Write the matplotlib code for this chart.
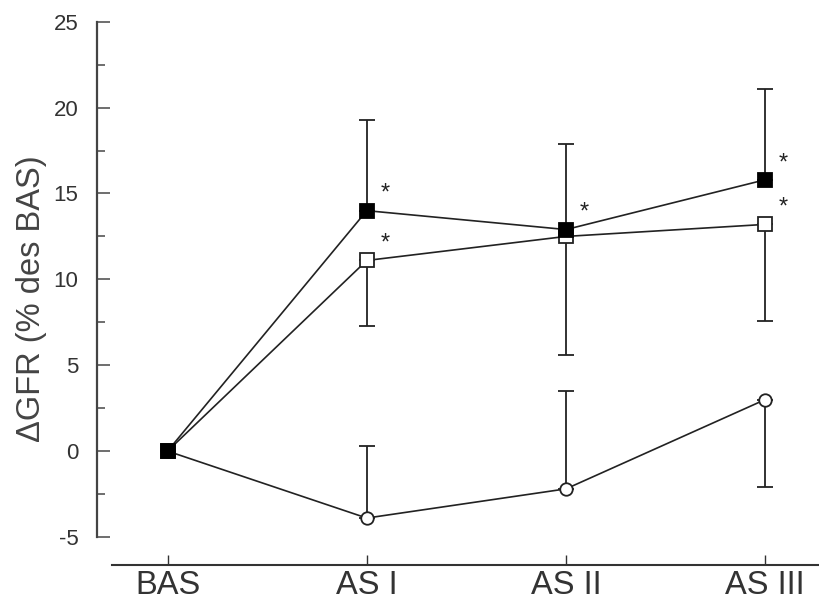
import numpy as np
import matplotlib
matplotlib.use("Agg")
from matplotlib import pyplot as plt

plt.rcParams['font.family'] = ['Liberation Sans', 'DejaVu Sans']
plt.rcParams['axes.unicode_minus'] = False

categories = ['BAS', 'AS I', 'AS II', 'AS III']

# filled squares, error bars going up
filled = [0, 14.0, 12.9, 15.8]
filled_up = [0, 19.3, 17.9, 21.1]

# open squares, error bars going down
open_sq = [0, 11.1, 12.5, 13.2]
open_sq_low = [0, 7.3, 5.6, 7.6]

# open circles
circle = [0, -3.9, -2.2, 3.0]
circle_up = [0, 0.3, 3.5, 3.0]
circle_low = [0, -3.9, -2.2, -2.1]

# significance stars (category index)
stars_filled = [1, 2, 3]
stars_open = [1, 3]

x = np.arange(len(categories))

fig = plt.figure(figsize=(8.19, 6.04), dpi=100)
ax = fig.add_axes([0.118, 0.111, 0.882, 0.853])

lc = '#222222'
ek = dict(ecolor=lc, elinewidth=1.3, capsize=6, capthick=1.3)

ax.errorbar(x, circle, yerr=[np.array(circle) - np.array(circle_low), np.array(circle_up) - np.array(circle)],
            fmt='-o', color=lc, mfc='white', mec=lc, ms=9, mew=1.3, lw=1.2, zorder=2, **ek)
ax.errorbar(x, open_sq, yerr=[np.array(open_sq) - np.array(open_sq_low), np.zeros(4)],
            fmt='-s', color=lc, mfc='white', mec=lc, ms=10, mew=1.3, lw=1.2, zorder=3, **ek)
ax.errorbar(x, filled, yerr=[np.zeros(4), np.array(filled_up) - np.array(filled)],
            fmt='-s', color=lc, mfc='black', mec='black', ms=10, mew=1.3, lw=1.2, zorder=4, **ek)

for i in stars_filled:
    ax.annotate('*', (x[i], filled[i]), xytext=(13, 12), textcoords='offset points',
                ha='center', va='center', fontsize=17, color=lc)
for i in stars_open:
    ax.annotate('*', (x[i], open_sq[i]), xytext=(13, 12), textcoords='offset points',
                ha='center', va='center', fontsize=17, color=lc)

ax.set_ylim(-5, 25)
ax.set_xlim(-0.356, 3.27)
ax.set_yticks(np.arange(-5, 26, 5))
ax.set_yticks(np.arange(-2.5, 25, 5), minor=True)
ax.set_xticks(x)
ax.set_xticklabels(categories)

for s in ['top', 'right']:
    ax.spines[s].set_visible(False)
ax.spines['bottom'].set_position(('outward', 20))
ax.spines['bottom'].set_bounds(-0.28, 3.27)
ax.spines['left'].set_color('#444444')
ax.spines['bottom'].set_color('#333333')
ax.spines['left'].set_linewidth(1.6)
ax.spines['bottom'].set_linewidth(1.5)

ax.tick_params(axis='y', which='major', direction='in', length=9, width=1.2,
               labelsize=16, colors='#555555', labelcolor='#333333', pad=13)
ax.tick_params(axis='y', which='minor', direction='in', length=6, width=1.2, colors='#555555')
ax.tick_params(axis='x', direction='in', length=7, width=1.0, labelsize=23.5,
               colors='#333333', pad=4)

ax.set_ylabel('ΔGFR (% des BAS)', fontsize=23.5, color='#444444')
ax.yaxis.set_label_coords(-0.069, 0.462)

fig.savefig('out.png', dpi=100)
